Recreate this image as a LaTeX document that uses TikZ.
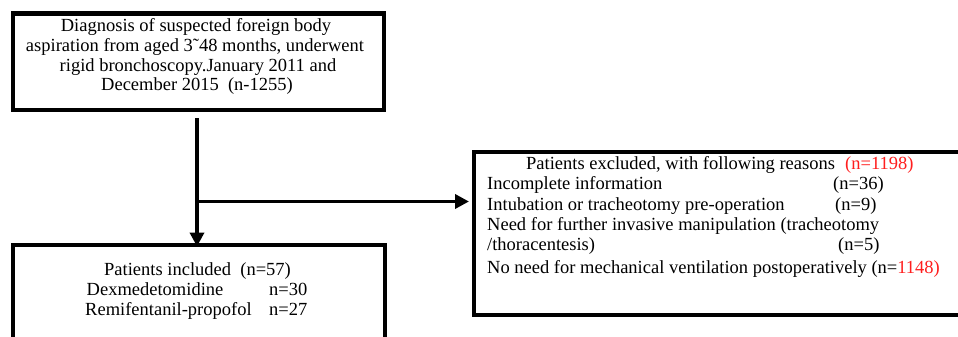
\documentclass[tikz,border=0pt]{standalone}
\usepackage{fontspec}
\setmainfont{Liberation Serif}
\usetikzlibrary{arrows.meta}
\definecolor{nred}{RGB}{255,30,30}
\tikzset{
  box/.style={draw=black, line width=4.3pt, rectangle, inner sep=0pt, anchor=north west},
  txt/.style={inner sep=0pt, font=\fontsize{18.5}{20}\selectfont, text=black},
  conn/.style={draw=black, -{Triangle[length=14pt,width=14pt]}},
}
\begin{document}
\begin{tikzpicture}[x=1pt,y=-1pt]
\useasboundingbox (0,0) rectangle (958,337);
\clip (0,0) rectangle (958,337);
\fill[white] (0,0) rectangle (958,337);
% boxes
\node[box, minimum width=371pt, minimum height=96.4pt] (diag) at (11,11.3) {};
\node[box, minimum width=371.5pt, minimum height=110pt] (inc) at (11,242.5) {};
\node[box, minimum width=500pt, minimum height=162.5pt] (exc) at (472,150) {};
% top box text
\node[txt, anchor=base] (d1) at (196,32) {Diagnosis of suspected foreign body};
\node[txt, anchor=base] (d2) at (195,51.5) {aspiration from aged 3˜48 months, underwent};
\node[txt, anchor=base] (d3) at (198,71) {rigid bronchoscopy.January 2011 and};
\node[txt, anchor=base] (d4) at (197,90.5) {December 2015\ \ (n-1255)};
% included box text
\node[txt, anchor=base west] (i1) at (104,275) {Patients included\ \ (n=57)};
\node[txt, anchor=base west] (i2) at (86.5,295) {Dexmedetomidine};
\node[txt, anchor=base west] (i2n) at (269,295) {n=30};
\node[txt, anchor=base west] (i3) at (85,315) {Remifentanil-propofol};
\node[txt, anchor=base west] (i3n) at (269,315) {n=27};
% excluded box text
\node[txt, anchor=base west] (e1) at (526,169) {Patients excluded, with following reasons};
\node[txt, anchor=base west, text=nred] (e1n) at (845,169) {(n=1198)};
\node[txt, anchor=base west] (e2) at (487,189.5) {Incomplete information};
\node[txt, anchor=base west] (e2n) at (833,189.5) {(n=36)};
\node[txt, anchor=base west] (e3) at (487,210) {Intubation or tracheotomy pre-operation};
\node[txt, anchor=base west] (e3n) at (835,210) {(n=9)};
\node[txt, anchor=base west] (e4) at (487,230) {Need for further invasive manipulation (tracheotomy};
\node[txt, anchor=base west] (e5) at (487,250) {/thoracentesis)};
\node[txt, anchor=base west] (e5n) at (838,250) {(n=5)};
\node[txt, anchor=base west] (e6) at (487,273) {No need for mechanical ventilation postoperatively (n=\textcolor{nred}{1148)}};
% connectors
\coordinate (vstart) at (197,118);
\coordinate (vend) at (197,246.5);
\coordinate (junc) at (197,201.5);
\coordinate (hend) at (469,201.5);
\draw[conn, line width=4.3pt] (vstart) -- (vend);
\draw[conn, line width=3.6pt] (junc) -- (hend);
\end{tikzpicture}
\end{document}
